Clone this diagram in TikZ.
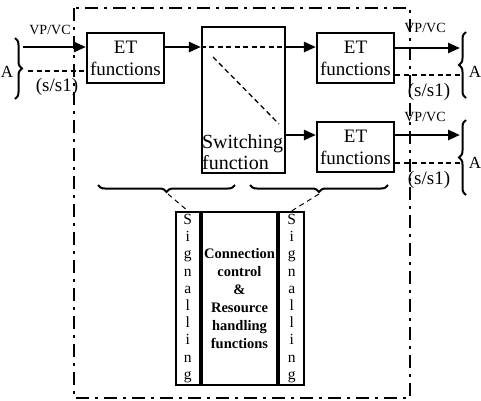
\documentclass[tikz,border=0pt]{standalone}
\usepackage{fontspec}
\setmainfont{Liberation Serif}
\usetikzlibrary{arrows.meta,decorations.pathreplacing,calc}
\tikzset{
  box/.style={draw, line width=2.2pt, inner sep=0pt, align=center},
  etbox/.style={box, minimum width=77pt, minimum height=50pt, font=\fontsize{19}{22}\selectfont},
  flow/.style={line width=2.6pt, -{Triangle[length=12pt,width=10pt]}},
  thindash/.style={line width=1.3pt, dash pattern=on 5pt off 3.5pt},
  sigdash/.style={line width=1pt, dash pattern=on 5pt off 4pt},
  border/.style={line width=1.6pt, dash pattern=on 13pt off 6pt on 3pt off 6pt},
  brc/.style={decorate, decoration={brace, amplitude=7pt}, line width=2pt},
  lblsmall/.style={inner sep=0pt, font=\fontsize{14}{16}\selectfont},
  lblss/.style={inner sep=0pt, font=\fontsize{19}{22}\selectfont},
  lbla/.style={inner sep=0pt, font=\fontsize{17}{20}\selectfont},
  sigcol/.style={box, minimum height=173pt, font=\fontsize{15.5}{17.2}\selectfont}
}
\begin{document}
\begin{tikzpicture}[x=1pt,y=-1pt]
\useasboundingbox (0,0) rectangle (481,400);
% outer dash-dot border
\draw[border] (74,8) rectangle (410,398);

% boxes
\node[etbox] (et1) at (125.5,58) {ET\\functions};
\node[box, minimum width=83pt, minimum height=146pt] (sw) at (243.5,100) {};
\node[inner sep=0pt, anchor=south west, align=left, font=\fontsize{20}{21}\selectfont] (swtext) at ($(sw.south west)+(1,-4)$) {Switching\\function};
\node[etbox] (et2) at (355.5,58) {ET\\functions};
\node[etbox] (et3) at (355.5,147) {ET\\functions};

% signalling / control block
\node[box, minimum width=75pt, minimum height=173pt, font=\bfseries\fontsize{14.5}{18}\selectfont] (ctrl) at (239.5,298.5) {Connection\\control\\\&\\Resource\\handling\\functions};
\node[sigcol, minimum width=24pt, anchor=east] (sigl) at (ctrl.west) {S\\i\\g\\n\\a\\l\\l\\i\\n\\g};
\node[sigcol, minimum width=25pt, anchor=west] (sigr) at (ctrl.east) {S\\i\\g\\n\\a\\l\\l\\i\\n\\g};

% input side
\coordinate (inA) at (23,47);
\coordinate (inS) at (28,71);
\draw[flow] (inA) -- (inA -| et1.west);
\draw[thindash] (inS) -- (inS -| et1.west);
\node[lblsmall] (vpin) at (50,30) {VP/VC};
\node[lblss] (ssin) at (57,87) {(s/s1)};
\node[lbla] (ain) at (7,72) {A};
\coordinate (bl1) at (15,38);
\coordinate (bl2) at (15,99);
\draw[brc] (bl1) -- (bl2);

% internal flows
\coordinate (r1) at (0,47);
\coordinate (r3) at (0,135);
\draw[flow] (et1.east |- r1) -- (sw.west |- r1);
\draw[thindash] (sw.west |- r1) -- (sw.east |- r1);
\draw[flow] (sw.east |- r1) -- (et2.west |- r1);
\draw[thindash] (213,57) -- (279,124);
\draw[flow] (sw.east |- r3) -- (et3.west |- r3);

% outputs
\coordinate (o1) at (460,48);
\coordinate (os1) at (460,75);
\coordinate (o2) at (460,135);
\coordinate (os2) at (460,163);
\draw[flow] (et2.east |- o1) -- (o1);
\draw[thindash] (et2.east |- os1) -- (os1);
\draw[flow] (et3.east |- o2) -- (o2);
\draw[thindash] (et3.east |- os2) -- (os2);
\node[lblsmall] (vpo1) at (425,28) {VP/VC};
\node[lblss] (sso1) at (429,92) {(s/s1)};
\node[lbla] (ao1) at (475,72) {A};
\node[lblsmall] (vpo2) at (425,117) {VP/VC};
\node[lblss] (sso2) at (429,180) {(s/s1)};
\node[lbla] (ao2) at (475,163) {A};
\draw[brc] (466,98) -- (466,32);
\draw[brc] (466,195) -- (466,120);

% lower braces
\coordinate (lb1) at (235,185);
\coordinate (lb2) at (98,185);
\coordinate (rb1) at (388,185);
\coordinate (rb2) at (250,185);
\draw[brc] (lb1) -- (lb2);
\draw[brc] (rb1) -- (rb2);
\coordinate (lbt) at (168,194);
\coordinate (rbt) at (319,194);
\draw[sigdash] (lbt) -- (sigl.north);
\draw[sigdash] (rbt) -- (sigr.north);
\end{tikzpicture}
\end{document}
